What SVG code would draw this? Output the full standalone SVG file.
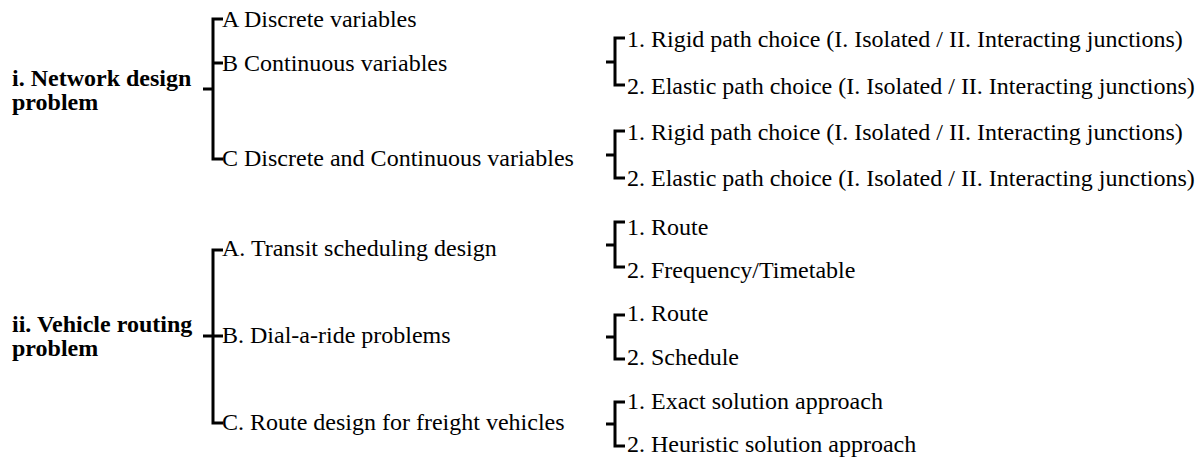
<svg xmlns="http://www.w3.org/2000/svg" width="1201" height="458" viewBox="0 0 1201 458">
  <style>
    text { font-family: 'Liberation Serif', 'Times New Roman', 'DejaVu Serif', serif; font-size: 24px; fill: #000; }
    .head { font-weight: bold; }
    .br { fill: none; stroke: #000; stroke-width: 3; stroke-linejoin: miter; stroke-linecap: butt; }
  </style>
  <rect width="1201" height="458" fill="#fff"/>

  <!-- bracket connectors -->
  <g id="connectors">
    <!-- i. Network design problem -->
    <path class="br" d="M223,19 H213 V159 H223 M213,63 H223 M203,89 H213"/>
    <path class="br" d="M625,38 H615 V85 H625 M606,62 H615"/>
    <path class="br" d="M625,131 H615 V178 H625 M606,155 H615"/>
    <!-- ii. Vehicle routing problem -->
    <path class="br" d="M223,250 H213 V423 H223 M203,336 H223"/>
    <path class="br" d="M625,222 H615 V267 H625 M606,245 H615"/>
    <path class="br" d="M625,315 H615 V359 H625 M606,337 H615"/>
    <path class="br" d="M625,402 H615 V446 H625 M606,424 H615"/>
  </g>

  <g font-family="Liberation Serif, serif">
    <g id="network-design">
      <text class="head" x="12" y="86">i. Network design</text>
      <text class="head" x="12" y="110">problem</text>
    </g>
    <g id="nd-discrete"><text x="222" y="27">A Discrete variables</text></g>
    <g id="nd-continuous"><text x="222" y="71">B Continuous variables</text></g>
    <g id="nd-continuous-rigid"><text x="627" y="47">1. Rigid path choice (I. Isolated / II. Interacting junctions)</text></g>
    <g id="nd-continuous-elastic"><text x="627" y="94">2. Elastic path choice (I. Isolated / II. Interacting junctions)</text></g>
    <g id="nd-mixed"><text x="222" y="166">C Discrete and Continuous variables</text></g>
    <g id="nd-mixed-rigid"><text x="627" y="140">1. Rigid path choice (I. Isolated / II. Interacting junctions)</text></g>
    <g id="nd-mixed-elastic"><text x="627" y="186">2. Elastic path choice (I. Isolated / II. Interacting junctions)</text></g>

    <g id="vehicle-routing">
      <text class="head" x="12" y="332">ii. Vehicle routing</text>
      <text class="head" x="12" y="356">problem</text>
    </g>
    <g id="vr-transit"><text x="222" y="256">A. Transit scheduling design</text></g>
    <g id="vr-transit-route"><text x="627" y="235">1. Route</text></g>
    <g id="vr-transit-frequency"><text x="627" y="278">2. Frequency/Timetable</text></g>
    <g id="vr-dial"><text x="222" y="343">B. Dial-a-ride problems</text></g>
    <g id="vr-dial-route"><text x="627" y="321">1. Route</text></g>
    <g id="vr-dial-schedule"><text x="627" y="365">2. Schedule</text></g>
    <g id="vr-freight"><text x="222" y="430">C. Route design for freight vehicles</text></g>
    <g id="vr-freight-exact"><text x="627" y="409">1. Exact solution approach</text></g>
    <g id="vr-freight-heuristic"><text x="627" y="452">2. Heuristic solution approach</text></g>
  </g>
</svg>
